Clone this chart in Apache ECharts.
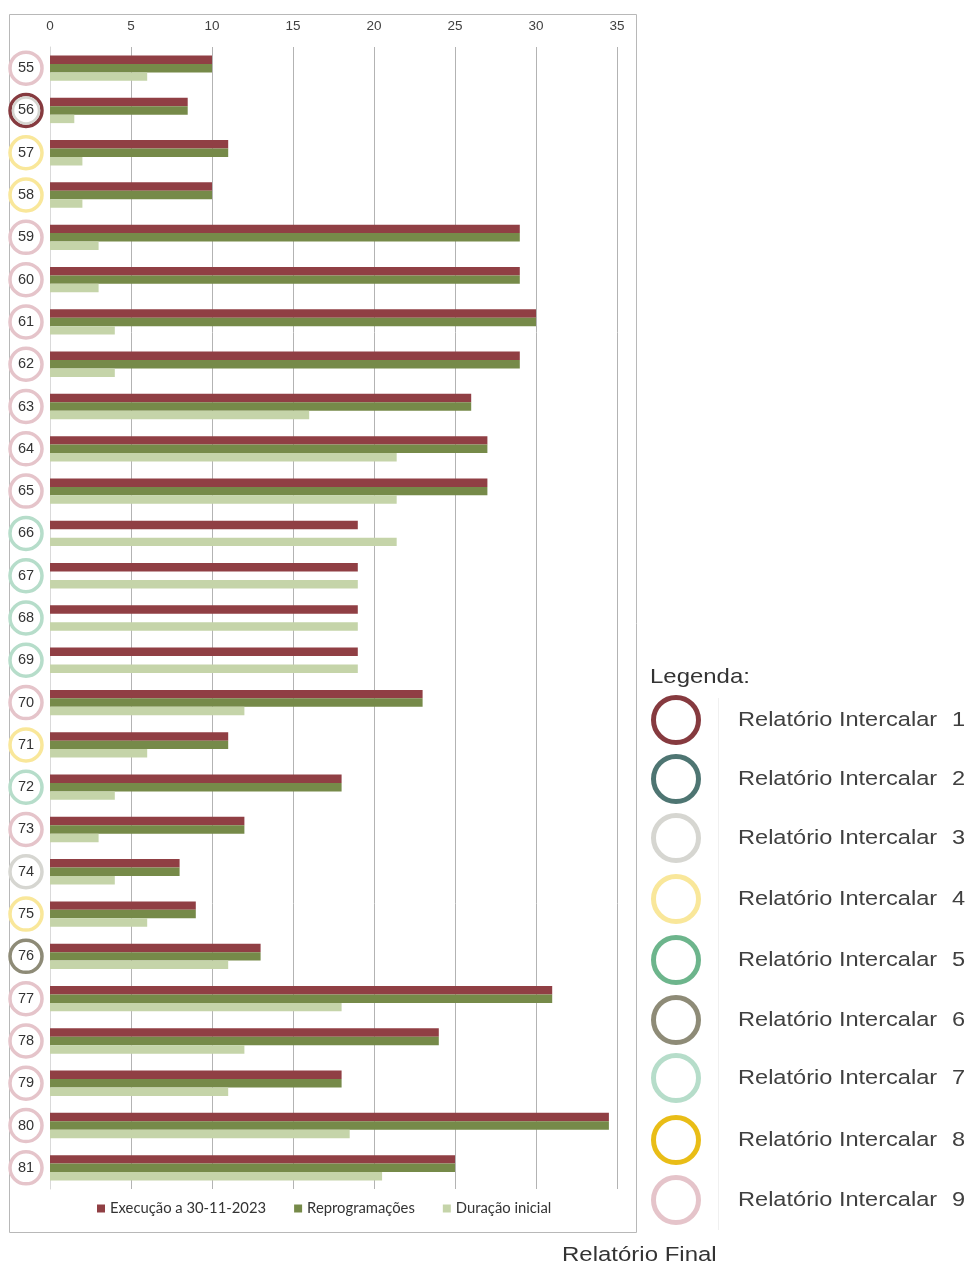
<!DOCTYPE html>
<html>
<head>
<meta charset="utf-8">
<style>
  html, body { margin: 0; padding: 0; background: #ffffff; }
  #chart { width: 971px; height: 1266px; }
</style>
<script src="https://cdn.jsdelivr.net/npm/echarts@6/dist/echarts.min.js"></script>
</head>
<body>
<div id="chart"></div>
<script>
// Project numbers (one row per project)
const categories = ['55','56','57','58','59','60','61','62','63','64','65','66','67','68','69','70','71','72','73','74','75','76','77','78','79','80','81'];

// Durations in months
const execucao       = [10, 8.5, 11, 10, 29, 29, 30, 29, 26, 27, 27, 19, 19, 19, 19, 23, 11, 18, 12, 8, 9, 13, 31, 24, 18, 34.5, 25];
const reprogramacoes = [10, 8.5, 11, 10, 29, 29, 30, 29, 26, 27, 27, 0, 0, 0, 0, 23, 11, 18, 12, 8, 9, 13, 31, 24, 18, 34.5, 25];
const duracaoInicial = [6, 1.5, 2, 2, 3, 3, 4, 4, 16, 21.4, 21.4, 21.4, 19, 19, 19, 12, 6, 4, 3, 4, 6, 11, 18, 12, 11, 18.5, 20.5];

const seriesNames = ['Execução a 30-11-2023', 'Reprogramações', 'Duração inicial'];
const xTicks = { min: 0, max: 35, interval: 5 };

// Report status ring for each project (index into reportNumbers, 1-based)
const reportStatus = [9, 1, 4, 4, 9, 9, 9, 9, 9, 9, 9, 7, 7, 7, 7, 9, 4, 7, 9, 3, 4, 6, 9, 9, 9, 9, 9];
// secondary inner ring (project 56 shows two reports)
const innerRing = { '56': 3 };

const reportLabel = 'Relatório Intercalar';
const reportNumbers = ['1','2','3','4','5','6','7','8','9'];
const reportColors = ['#863a3f','#4e7572','#d6d6d1','#f9e79a','#6db58c','#8e8b77','#b6ddca','#e9bd17','#e5c4ca'];

const barColors = ['#903f44', '#768a49', '#c5d4a9'];

const chart = echarts.init(document.getElementById('chart'), null, { renderer: 'canvas' });

const option = {
  backgroundColor: '#ffffff',
  animation: false,
  grid: { left: 50, right: 354, top: 47, height: 1142, containLabel: false },
  legend: {
    bottom: 45,
    left: 92,
    itemWidth: 8,
    itemHeight: 8,
    itemGap: 28,
    icon: 'rect',
    textStyle: { fontFamily: 'Lato', fontSize: 14.8, color: '#333' },
    data: seriesNames
  },
  xAxis: {
    type: 'value',
    position: 'top',
    min: xTicks.min,
    max: xTicks.max,
    interval: xTicks.interval,
    axisLine: { show: false },
    axisTick: { show: false },
    axisLabel: { margin: 14, fontFamily: 'Liberation Sans', fontSize: 13.5, color: '#404040' },
    splitLine: { show: true, lineStyle: { color: '#b3b3b3', width: 1 } }
  },
  yAxis: {
    type: 'category',
    inverse: true,
    data: categories,
    axisLine: { show: true, lineStyle: { color: '#d9d9d9' } },
    axisTick: { show: false },
    axisLabel: { margin: 24, align: 'center', fontFamily: 'Liberation Sans', fontSize: 14.5, color: '#333' }
  },
  series: [
    { name: seriesNames[0], type: 'bar', data: execucao, itemStyle: { color: barColors[0] }, barGap: '0%', barCategoryGap: '40%' },
    { name: seriesNames[1], type: 'bar', data: reprogramacoes, itemStyle: { color: barColors[1] }, barGap: '0%', barCategoryGap: '40%' },
    { name: seriesNames[2], type: 'bar', data: duracaoInicial, itemStyle: { color: barColors[2] }, barGap: '0%', barCategoryGap: '40%' }
  ]
};

chart.setOption(option);

// Decorations: chart frame, status rings around project numbers, side legend
const graphics = [];

graphics.push({
  type: 'rect', z: -1, silent: true,
  shape: { x: 9.5, y: 14.5, width: 627, height: 1218 },
  style: { fill: 'none', stroke: '#b8b8b8', lineWidth: 1 }
});

categories.forEach((c, i) => {
  const y = chart.convertToPixel({ yAxisIndex: 0 }, c);
  const col = reportColors[reportStatus[i] - 1];
  graphics.push({
    type: 'circle', silent: true,
    shape: { cx: 26, cy: y, r: 16 },
    style: { fill: 'none', stroke: col, lineWidth: 3.5 }
  });
  if (innerRing[c]) {
    graphics.push({
      type: 'circle', silent: true,
      shape: { cx: 26, cy: y, r: 13 },
      style: { fill: 'none', stroke: reportColors[innerRing[c] - 1], lineWidth: 2.5 }
    });
  }
});

// wide-set text helper for the side legend
function wideText(x, y, text, size, stretch, color) {
  return {
    type: 'text', silent: true, x: x, y: y, scaleX: stretch,
    style: { x: 0, y: 0, text: text, fontFamily: 'Liberation Sans', fontSize: size, fill: color, verticalAlign: 'middle' }
  };
}

graphics.push(wideText(650, 677, 'Legenda:', 21, 1.14, '#333'));
graphics.push({
  type: 'line', silent: true,
  shape: { x1: 718.5, y1: 698, x2: 718.5, y2: 1230 },
  style: { stroke: '#f0f0f0', lineWidth: 1 }
});
const legendY = [720, 779, 838, 899, 960, 1020, 1078, 1140, 1200];
reportNumbers.forEach((num, i) => {
  graphics.push({
    type: 'circle', silent: true,
    shape: { cx: 676, cy: legendY[i], r: 22.5 },
    style: { fill: '#ffffff', stroke: reportColors[i], lineWidth: 5 }
  });
  graphics.push(wideText(738, legendY[i], reportLabel, 20.5, 1.15, '#404040'));
  graphics.push(wideText(952, legendY[i], num, 20.5, 1.15, '#404040'));
});
graphics.push(wideText(562, 1255, 'Relatório Final', 20.5, 1.17, '#333'));

chart.setOption({ graphic: graphics });
</script>
</body>
</html>
